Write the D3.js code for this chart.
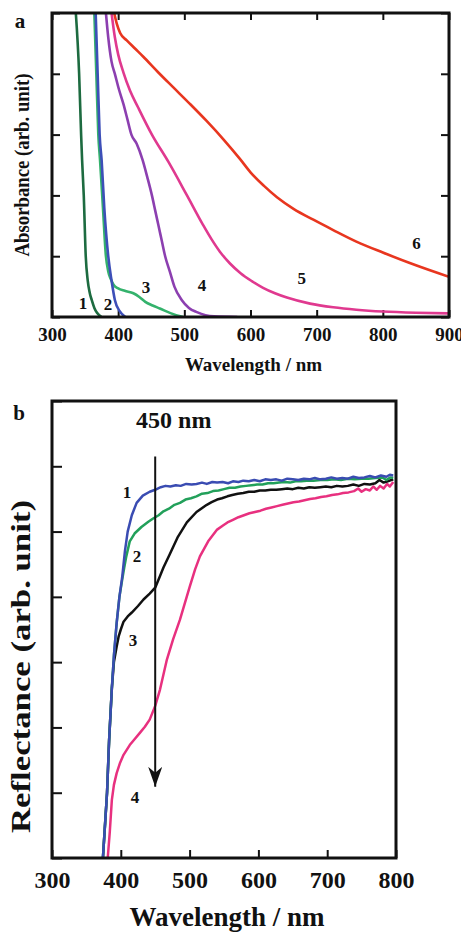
<!DOCTYPE html>
<html>
<head>
<meta charset="utf-8">
<script src="https://cdn.jsdelivr.net/npm/d3@7.9.0/dist/d3.min.js"></script>
<style>
  body { margin: 0; background: #fff; }
  svg text { font-family: "Liberation Serif", "Times New Roman", serif; font-weight: bold; fill: #111; }
</style>
</head>
<body>
<svg id="chart" width="461" height="933"></svg>
<script>
// ---- panel a: absorbance ----
const absCurve1 = [[336,5],[341,4],[344,3],[345.5,2.58],[348,2],[351,1],[354,0.6],[357,0.4],[360,0.28],[364,0.15],[368,0.07],[375,0]];
const absCurve2 = [[366,5],[369,4],[372,3],[375,2.58],[379,1.8],[385,1],[390,0.6],[395,0.28],[402,0.1],[411,0]];
const absCurve3 = [[364,5],[367,4],[370,3],[372.6,2.58],[377,1.8],[381.5,1],[385,0.75],[389,0.62],[393,0.53],[400,0.47],[410,0.43],[423,0.39],[432,0.33],[441,0.25],[452,0.19],[463,0.14],[480,0.06],[498,0]];
const absCurve4 = [[381.5,5],[385,4.6],[390,4.2],[395,4],[401,3.75],[408,3.5],[414,3.25],[420,3],[428,2.85],[437,2.58],[444,2.3],[451,2],[456,1.75],[461,1.5],[466,1.25],[471,1],[478,0.75],[485,0.5],[496,0.28],[507,0.15],[519,0.08],[532,0.03],[545,0.01],[580,0]];
const absCurve5 = [[390,5],[395,4.6],[400,4.32],[408,4.02],[418,3.72],[430,3.45],[451,3],[476,2.55],[504,2],[528,1.52],[541,1.28],[554,1.07],[569,0.88],[585,0.72],[602,0.59],[619,0.48],[637,0.39],[655,0.32],[690,0.22],[725,0.16],[760,0.12],[800,0.09],[850,0.07],[900,0.06]];
const absCurve6 = [[394,5],[398,4.82],[403,4.67],[413,4.55],[425,4.42],[438,4.28],[460,4.03],[483,3.78],[508,3.51],[534,3.22],[560,2.91],[584,2.6],[600,2.38],[620,2.16],[640,1.97],[665,1.78],[695,1.6],[725,1.43],[760,1.24],[800,1.06],[850,0.85],[900,0.66]];
const absSeries = [absCurve3, absCurve1, absCurve2, absCurve4, absCurve5, absCurve6];
const absColors = ["#34b26c", "#1d6b40", "#3d4fb8", "#8c3fb0", "#e0398f", "#e8361f"];
const absLabels = [["1",346.8,0.23],["2",384.6,0.21],["3",442,0.49],["4",526.6,0.53],["5",677.6,0.64],["6",851,1.22]];
const absXTicks = [300,400,500,600,700,800,900];
const absYTicks = [0,1,2,3,4,5];

// ---- panel b: reflectance ----
const refCurve1 = [[374,0],[377,0.5],[380,1.0],[383,1.8],[387,2.6],[390,3.1],[394,3.6],[398,4.0],[402,4.3],[406,4.7],[410,5.0],[416,5.25],[423,5.44],[432,5.55],[442,5.61],[450,5.64],[458,5.68],[465,5.70],[472,5.69],[480,5.71],[487,5.70],[495,5.73],[503,5.72],[510,5.73],[518,5.75],[525,5.73],[533,5.76],[540,5.75],[548,5.76],[556,5.74],[563,5.77],[571,5.76],[578,5.78],[586,5.77],[594,5.79],[602,5.77],[610,5.80],[618,5.79],[626,5.80],[634,5.78],[642,5.81],[650,5.80],[658,5.79],[666,5.81],[674,5.80],[682,5.82],[690,5.80],[698,5.81],[706,5.83],[714,5.81],[722,5.82],[730,5.81],[738,5.84],[746,5.82],[754,5.83],[762,5.85],[770,5.83],[778,5.86],[786,5.84],[791,5.87],[796,5.86]];
const refCurve2 = [[374,0],[377,0.5],[380,1.0],[383,1.8],[387,2.6],[390,3.1],[394,3.6],[398,4.0],[402,4.26],[405,4.45],[408,4.62],[413,4.85],[420,4.97],[430,5.07],[440,5.15],[447,5.20],[455,5.25],[462,5.31],[470,5.35],[478,5.41],[486,5.44],[494,5.49],[502,5.51],[510,5.54],[518,5.58],[526,5.59],[534,5.62],[542,5.63],[550,5.65],[558,5.67],[566,5.67],[574,5.69],[582,5.70],[590,5.71],[598,5.72],[606,5.72],[614,5.74],[622,5.74],[630,5.75],[638,5.76],[646,5.75],[654,5.77],[662,5.77],[670,5.78],[680,5.78],[690,5.79],[700,5.79],[710,5.80],[720,5.79],[730,5.81],[740,5.80],[750,5.81],[760,5.81],[770,5.82],[780,5.83],[786,5.79],[792,5.83],[796,5.82]];
const refCurve3 = [[374,0],[377,0.5],[380,1.0],[383,1.8],[387,2.6],[390,3.0],[394,3.24],[397,3.40],[400,3.50],[404,3.62],[410,3.70],[416,3.76],[425,3.86],[433,3.96],[442,4.05],[450,4.14],[457,4.32],[462,4.45],[471,4.65],[483,4.92],[496,5.14],[510,5.30],[525,5.41],[532,5.45],[540,5.49],[547,5.51],[555,5.54],[562,5.56],[570,5.58],[578,5.59],[586,5.61],[594,5.61],[602,5.63],[610,5.63],[618,5.64],[626,5.64],[634,5.65],[642,5.66],[650,5.65],[658,5.67],[666,5.66],[674,5.68],[682,5.67],[690,5.68],[698,5.69],[706,5.68],[714,5.70],[722,5.69],[730,5.70],[738,5.72],[746,5.70],[754,5.73],[762,5.72],[770,5.74],[776,5.79],[782,5.75],[788,5.77],[796,5.80]];
const refCurve4 = [[381,0],[384,0.4],[387,0.89],[390,1.12],[394,1.30],[399,1.46],[404,1.58],[413,1.73],[420,1.82],[428,1.92],[435,2.01],[442,2.12],[450,2.33],[457,2.58],[467,3.04],[476,3.35],[486,3.65],[500,4.15],[508,4.42],[515,4.62],[527,4.85],[540,5.03],[548,5.09],[555,5.14],[563,5.18],[571,5.22],[579,5.25],[587,5.28],[595,5.30],[603,5.32],[611,5.35],[619,5.37],[627,5.39],[635,5.41],[643,5.43],[651,5.45],[659,5.46],[667,5.48],[675,5.50],[683,5.51],[691,5.53],[699,5.54],[707,5.56],[715,5.57],[723,5.59],[731,5.60],[739,5.62],[745,5.66],[750,5.61],[756,5.65],[762,5.63],[767,5.69],[772,5.64],[777,5.70],[782,5.66],[787,5.73],[791,5.69],[796,5.76]];
const refSeries = [refCurve4, refCurve3, refCurve2, refCurve1];
const refColors = ["#e8307f", "#111111", "#22a05a", "#3a4cb2"];
const refLabels = [["1",409,5.60],["2",423.5,4.62],["3",417.7,3.34],["4",420.6,0.94]];
const refXTicks = [300,400,500,600,700,800];
const refYTicks = [0,1,2,3,4,5,6,7];
const arrowWavelength = 450;
const arrowFrom = 6.15, arrowTo = 1.09;
const arrowText = "450 nm";
const arrowTextPos = [477, 6.72];

const svg = d3.select("#chart");

svg.append("defs").append("marker")
  .attr("id", "head")
  .attr("viewBox", "0 0 20 14")
  .attr("refX", 20).attr("refY", 7)
  .attr("markerWidth", 20).attr("markerHeight", 14)
  .attr("markerUnits", "userSpaceOnUse")
  .attr("orient", "auto")
  .append("path")
  .attr("d", "M0,0 L20,7 L0,14 L6,7 Z")
  .attr("fill", "#111");

function frame(g, x, y, id) {
  g.append("clipPath").attr("id", id)
    .append("rect")
    .attr("x", x.range()[0]).attr("y", y.range()[1])
    .attr("width", x.range()[1] - x.range()[0])
    .attr("height", y.range()[0] - y.range()[1]);
}

function styleAxis(sel, fontSize) {
  sel.select(".domain").remove();
  sel.selectAll(".tick line").attr("stroke", "#111").attr("stroke-width", 2);
  sel.selectAll(".tick text")
    .attr("fill", "#111")
    .style("font-size", fontSize + "px")
    .style("font-family", "'Liberation Serif', serif")
    .style("font-weight", "bold");
}

// ---------- panel a ----------
const xa = d3.scaleLinear().domain([300, 900]).range([52, 449]);
const ya = d3.scaleLinear().domain([0, 5]).range([317, 13]);
const ga = svg.append("g");
frame(ga, xa, ya, "clipA");

ga.append("g").attr("transform", `translate(0,${ya(0)})`)
  .call(d3.axisBottom(xa).tickValues(absXTicks).tickSizeInner(-7).tickSizeOuter(0).tickPadding(11))
  .call(s => styleAxis(s, 19));
ga.append("g").attr("transform", `translate(0,${ya(5)})`)
  .call(d3.axisTop(xa).tickValues(absXTicks).tickFormat("").tickSizeInner(-7).tickSizeOuter(0))
  .call(s => styleAxis(s, 19));
ga.append("g").attr("transform", `translate(${xa(300)},0)`)
  .call(d3.axisLeft(ya).tickValues(absYTicks).tickFormat("").tickSizeInner(-8).tickSizeOuter(0))
  .call(s => styleAxis(s, 19));
ga.append("g").attr("transform", `translate(${xa(900)},0)`)
  .call(d3.axisRight(ya).tickValues(absYTicks).tickFormat("").tickSizeInner(-8).tickSizeOuter(0))
  .call(s => styleAxis(s, 19));

const lineA = d3.line().x(d => xa(d[0])).y(d => ya(d[1])).curve(d3.curveMonotoneX);
ga.append("g").attr("clip-path", "url(#clipA)")
  .selectAll("path").data(absSeries).join("path")
  .attr("d", lineA)
  .attr("fill", "none")
  .attr("stroke", (d, i) => absColors[i])
  .attr("stroke-width", 2.6);

ga.append("rect")
  .attr("x", xa(300)).attr("y", ya(5))
  .attr("width", xa(900) - xa(300)).attr("height", ya(0) - ya(5))
  .attr("fill", "none").attr("stroke", "#111").attr("stroke-width", 3);

ga.selectAll(".clabel").data(absLabels).join("text")
  .attr("class", "clabel")
  .attr("x", d => xa(d[1])).attr("y", d => ya(d[2]))
  .attr("text-anchor", "middle").attr("dy", "0.35em")
  .style("font-size", "17px")
  .text(d => d[0]);

ga.append("text").attr("x", (xa(300) + xa(900)) / 2 + 3).attr("y", 371)
  .attr("text-anchor", "middle").style("font-size", "19px")
  .text("Wavelength / nm");
ga.append("text")
  .attr("transform", `translate(29,${(ya(0) + ya(5)) / 2}) rotate(-90)`)
  .attr("text-anchor", "middle")
  .attr("textLength", 183).attr("lengthAdjust", "spacingAndGlyphs")
  .style("font-size", "21px")
  .text("Absorbance (arb. unit)");
ga.append("text").attr("x", 20).attr("y", 28).attr("text-anchor", "middle")
  .style("font-size", "21px").text("a");

// ---------- panel b ----------
const xb = d3.scaleLinear().domain([300, 800]).range([52, 396]);
const yb = d3.scaleLinear().domain([0, 7]).range([858, 401]);
const gb = svg.append("g");
frame(gb, xb, yb, "clipB");

gb.append("g").attr("transform", `translate(0,${yb(0)})`)
  .call(d3.axisBottom(xb).tickValues(refXTicks).tickSizeInner(-8).tickSizeOuter(0).tickPadding(13))
  .call(s => styleAxis(s, 24));
gb.append("g").attr("transform", `translate(${xb(300)},0)`)
  .call(d3.axisLeft(yb).tickValues(refYTicks).tickFormat("").tickSizeInner(-10).tickSizeOuter(0))
  .call(s => styleAxis(s, 24));

const lineB = d3.line().x(d => xb(d[0])).y(d => yb(d[1]));
gb.append("g").attr("clip-path", "url(#clipB)")
  .selectAll("path").data(refSeries).join("path")
  .attr("d", lineB)
  .attr("fill", "none")
  .attr("stroke", (d, i) => refColors[i])
  .attr("stroke-width", 2.5)
  .attr("stroke-linejoin", "round");

gb.append("rect")
  .attr("x", xb(300)).attr("y", yb(7))
  .attr("width", xb(800) - xb(300)).attr("height", yb(0) - yb(7))
  .attr("fill", "none").attr("stroke", "#111").attr("stroke-width", 3);

gb.append("line")
  .attr("x1", xb(arrowWavelength)).attr("x2", xb(arrowWavelength))
  .attr("y1", yb(arrowFrom)).attr("y2", yb(arrowTo))
  .attr("stroke", "#111").attr("stroke-width", 2)
  .attr("marker-end", "url(#head)");

gb.append("text")
  .attr("x", xb(arrowTextPos[0])).attr("y", yb(arrowTextPos[1]))
  .attr("text-anchor", "middle").attr("dy", "0.35em")
  .style("font-size", "24px").text(arrowText);

gb.selectAll(".clabel").data(refLabels).join("text")
  .attr("class", "clabel")
  .attr("x", d => xb(d[1])).attr("y", d => yb(d[2]))
  .attr("text-anchor", "middle").attr("dy", "0.35em")
  .style("font-size", "17px")
  .text(d => d[0]);

gb.append("text").attr("x", (xb(300) + xb(800)) / 2 + 3).attr("y", 926)
  .attr("text-anchor", "middle").style("font-size", "27px")
  .text("Wavelength / nm");
gb.append("text")
  .attr("transform", `translate(30,${(yb(0) + yb(7)) / 2 + 37}) rotate(-90)`)
  .attr("text-anchor", "middle")
  .attr("textLength", 333).attr("lengthAdjust", "spacingAndGlyphs")
  .style("font-size", "27px")
  .text("Reflectance (arb. unit)");
gb.append("text").attr("x", 19).attr("y", 420).attr("text-anchor", "middle")
  .style("font-size", "21px").text("b");
</script>
</body>
</html>
